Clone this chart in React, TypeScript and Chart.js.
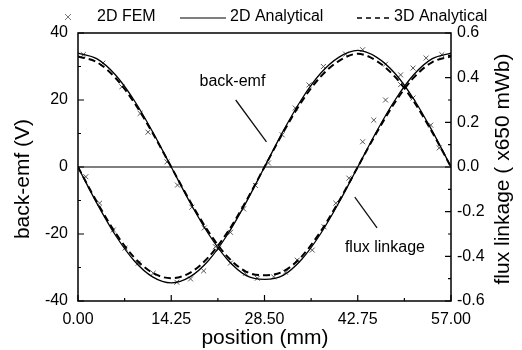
import React, { useEffect, useRef } from "react";
import { Chart, registerables } from "chart.js";
Chart.register(...registerables);

// ---- data ----
const positionMm = [0, 2.85, 5.7, 8.55, 11.4, 14.25, 17.1, 19.95, 22.8, 25.65, 28.5, 31.35, 34.2, 37.05, 39.9, 42.75, 45.6, 48.45, 51.3, 54.15, 57];
const emf2DAnalytical = [0, -10.7, -20.3, -27.9, -32.8, -34.6, -32.8, -27.9, -20.3, -10.7, 0, 10.7, 20.3, 27.9, 32.8, 34.8, 32.8, 27.9, 20.3, 10.7, 0];
const emf3DAnalytical = [0, -10.3, -19.6, -26.9, -31.6, -33.2, -31.6, -26.9, -19.6, -10.3, 0, 10.3, 19.6, 26.9, 31.7, 33.8, 31.7, 26.9, 19.6, 10.3, 0];
const flux2DAnalytical = [0.51, 0.485, 0.413, 0.3, 0.158, 0, -0.158, -0.3, -0.413, -0.485, -0.503, -0.485, -0.413, -0.3, -0.158, 0, 0.158, 0.3, 0.413, 0.485, 0.51];
const flux3DAnalytical = [0.495, 0.47, 0.4, 0.29, 0.152, 0, -0.152, -0.29, -0.4, -0.468, -0.485, -0.468, -0.4, -0.29, -0.152, 0, 0.152, 0.29, 0.4, 0.47, 0.495];

const emfFemX = [1.2, 3.3, 5.4, 7.2, 9.2, 11.5, 15.1, 17.2, 19.2, 21.5, 23.3, 25.3, 27.1, 29.1, 31.2, 33.2, 35.3, 37.5, 40.9, 43.5, 47.0, 49.3, 51.2, 53.9, 55.2];
const emfFemY = [-2.9, -10.8, -18.8, -24.2, -28.7, -31.7, -34.4, -33.4, -31.0, -24.5, -19.5, -12.5, -5.5, 1.2, 9.6, 17.6, 24.5, 30.0, 33.7, 35.0, 30.7, 27.5, 20.6, 12.5, 5.7];

const fluxFemX = [0.8, 3.8, 6.7, 9.5, 10.7, 13.6, 15.2, 17.4, 19.3, 21.0, 23.3, 25.6, 27.4, 29.9, 31.7, 33.5, 35.8, 37.6, 39.4, 41.4, 43.5, 45.2, 47.0, 49.3, 51.2, 53.2, 55.6];
const fluxFemY = [0.503, 0.465, 0.359, 0.24, 0.156, 0.023, -0.081, -0.18, -0.273, -0.357, -0.43, -0.476, -0.498, -0.492, -0.471, -0.417, -0.372, -0.268, -0.162, -0.05, 0.113, 0.21, 0.3, 0.369, 0.443, 0.488, 0.503];

const xTicks = [0, 14.25, 28.5, 42.75, 57];
const emfTicks = [-40, -20, 0, 20, 40];
const fluxTicks = [-0.6, -0.4, -0.2, 0, 0.2, 0.4, 0.6];

const FONT = '"Liberation Sans", Arial, Helvetica, sans-serif';

export default function App() {
  const ref = useRef<HTMLCanvasElement>(null);

  useEffect(() => {
    const canvas = ref.current;
    if (!canvas) return;

    const pts = (xs: number[], ys: number[]) => xs.map((x, i) => ({ x, y: ys[i] }));

    const overlay = {
      id: "overlay",
      beforeDatasetsDraw(chart: any) {
        const { ctx, chartArea } = chart;
        const y = chart.scales.y;
        ctx.save();
        ctx.strokeStyle = "#555";
        ctx.lineWidth = 1.5;
        const y0 = y.getPixelForValue(0);
        ctx.beginPath();
        ctx.moveTo(chartArea.left, y0);
        ctx.lineTo(chartArea.right, y0);
        ctx.stroke();
        ctx.restore();
      },
      afterDraw(chart: any) {
        const { ctx, chartArea } = chart;
        const xs = chart.scales.x;
        const ys = chart.scales.y;
        const y1 = chart.scales.y1;
        const { left, right, top, bottom } = chartArea;
        ctx.save();
        // frame
        ctx.strokeStyle = "#000";
        ctx.lineWidth = 1.5;
        ctx.strokeRect(left, top, right - left, bottom - top);
        // inner ticks
        ctx.lineWidth = 1.2;
        ctx.beginPath();
        for (let i = 0; i <= 8; i++) {
          const v = -40 + i * 10;
          const p = ys.getPixelForValue(v);
          const len = i % 2 === 0 ? 6 : 3;
          ctx.moveTo(left, p);
          ctx.lineTo(left + len, p);
        }
        for (let i = 0; i <= 12; i++) {
          const v = -0.6 + i * 0.1;
          const p = y1.getPixelForValue(v);
          const len = i % 2 === 0 ? 6 : 3;
          ctx.moveTo(right, p);
          ctx.lineTo(right - len, p);
        }
        for (let i = 0; i <= 8; i++) {
          const v = i * 7.125;
          const p = xs.getPixelForValue(v);
          const len = i % 2 === 0 ? 6 : 3;
          ctx.moveTo(p, bottom);
          ctx.lineTo(p, bottom - len);
        }
        ctx.stroke();

        // axis titles
        ctx.fillStyle = "#000";
        ctx.font = `21px ${FONT}`;
        ctx.textAlign = "center";
        ctx.textBaseline = "middle";
        ctx.fillText("position (mm)", 265, 338);
        ctx.save();
        ctx.translate(23, 179);
        ctx.rotate(-Math.PI / 2);
        ctx.fillText("back-emf (V)", 0, 0);
        ctx.restore();
        ctx.save();
        ctx.translate(503, 169);
        ctx.rotate(-Math.PI / 2);
        ctx.fillText("flux linkage ( x650 mWb)", 0, 0);
        ctx.restore();

        // annotations
        ctx.font = `16px ${FONT}`;
        ctx.fillText("back-emf", xs.getPixelForValue(23.6), ys.getPixelForValue(25.4));
        ctx.fillText("flux linkage", xs.getPixelForValue(46.9), ys.getPixelForValue(-24.2));
        ctx.strokeStyle = "#111";
        ctx.lineWidth = 1.3;
        ctx.beginPath();
        ctx.moveTo(xs.getPixelForValue(24.1), ys.getPixelForValue(20));
        ctx.lineTo(xs.getPixelForValue(28.8), ys.getPixelForValue(7.5));
        ctx.moveTo(xs.getPixelForValue(45.7), ys.getPixelForValue(-18.2));
        ctx.lineTo(xs.getPixelForValue(42.3), ys.getPixelForValue(-9));
        ctx.stroke();

        // legend
        const ly = 17;
        ctx.strokeStyle = "#777";
        ctx.lineWidth = 1;
        ctx.beginPath();
        ctx.moveTo(65, ly - 3);
        ctx.lineTo(71, ly + 3);
        ctx.moveTo(71, ly - 3);
        ctx.lineTo(65, ly + 3);
        ctx.stroke();
        ctx.font = `16px ${FONT}`;
        ctx.textAlign = "left";
        ctx.fillStyle = "#000";
        ctx.fillText("2D FEM", 97, ly);
        ctx.strokeStyle = "#000";
        ctx.lineWidth = 1.2;
        ctx.beginPath();
        ctx.moveTo(180, ly + 1);
        ctx.lineTo(226, ly + 1);
        ctx.stroke();
        ctx.fillText("2D Analytical", 230, ly);
        ctx.lineWidth = 1.6;
        ctx.setLineDash([5, 4]);
        ctx.beginPath();
        ctx.moveTo(357, ly + 1);
        ctx.lineTo(393, ly + 1);
        ctx.stroke();
        ctx.setLineDash([]);
        ctx.fillText("3D Analytical", 394, ly);
        ctx.restore();
      },
    };

    const setTicks = (vals: number[]) => (scale: any) => {
      scale.ticks = vals.map((v) => ({ value: v }));
    };

    const chart = new Chart(canvas, {
      type: "scatter",
      data: {
        datasets: [
          {
            label: "2D Analytical (back-emf)",
            data: pts(positionMm, emf2DAnalytical),
            showLine: true,
            borderColor: "#000",
            borderWidth: 1.3,
            pointRadius: 0,
            cubicInterpolationMode: "monotone",
            yAxisID: "y",
          },
          {
            label: "3D Analytical (back-emf)",
            data: pts(positionMm, emf3DAnalytical),
            showLine: true,
            borderColor: "#000",
            borderWidth: 2,
            borderDash: [7, 4],
            pointRadius: 0,
            cubicInterpolationMode: "monotone",
            yAxisID: "y",
          },
          {
            label: "2D Analytical (flux)",
            data: pts(positionMm, flux2DAnalytical),
            showLine: true,
            borderColor: "#000",
            borderWidth: 1.3,
            pointRadius: 0,
            cubicInterpolationMode: "monotone",
            yAxisID: "y1",
          },
          {
            label: "3D Analytical (flux)",
            data: pts(positionMm, flux3DAnalytical),
            showLine: true,
            borderColor: "#000",
            borderWidth: 2,
            borderDash: [7, 4],
            pointRadius: 0,
            cubicInterpolationMode: "monotone",
            yAxisID: "y1",
          },
          {
            label: "2D FEM (back-emf)",
            data: pts(emfFemX, emfFemY),
            showLine: false,
            pointStyle: "crossRot",
            pointRadius: 3.5,
            borderColor: "#555",
            borderWidth: 1,
            yAxisID: "y",
          },
          {
            label: "2D FEM (flux)",
            data: pts(fluxFemX, fluxFemY),
            showLine: false,
            pointStyle: "crossRot",
            pointRadius: 3.5,
            borderColor: "#555",
            borderWidth: 1,
            yAxisID: "y1",
          },
        ] as any,
      },
      options: {
        animation: false,
        responsive: false,
        devicePixelRatio: 1,
        layout: { padding: { top: 33, left: 0, right: 0, bottom: 0 } },
        plugins: { legend: { display: false }, tooltip: { enabled: false } },
        scales: {
          x: {
            type: "linear",
            min: 0,
            max: 57,
            afterBuildTicks: setTicks(xTicks),
            afterFit: (s: any) => {
              s.height = 49;
            },
            grid: { drawOnChartArea: false, drawTicks: false },
            border: { display: false },
            ticks: {
              color: "#000",
              padding: 9,
              maxRotation: 0,
              autoSkip: false,
              font: { family: FONT, size: 16 },
              callback: (v: any) => Number(v).toFixed(2),
            },
          },
          y: {
            type: "linear",
            position: "left",
            min: -40,
            max: 40,
            afterBuildTicks: setTicks(emfTicks),
            afterFit: (s: any) => {
              s.width = 78;
            },
            grid: { drawOnChartArea: false, drawTicks: false },
            border: { display: false },
            ticks: {
              color: "#000",
              padding: 10,
              autoSkip: false,
              font: { family: FONT, size: 16 },
              callback: (v: any) => String(v),
            },
          },
          y1: {
            type: "linear",
            position: "right",
            min: -0.6,
            max: 0.6,
            afterBuildTicks: setTicks(fluxTicks),
            afterFit: (s: any) => {
              s.width = 71;
            },
            grid: { drawOnChartArea: false, drawTicks: false },
            border: { display: false },
            ticks: {
              color: "#000",
              padding: 6,
              autoSkip: false,
              font: { family: FONT, size: 16 },
              callback: (v: any) => Number(v).toFixed(1),
            },
          },
        },
      } as any,
      plugins: [overlay],
    });

    return () => chart.destroy();
  }, []);

  return (
    <div style={{ position: "fixed", left: 0, top: 0, width: 522, height: 350, background: "#fff" }}>
      <canvas ref={ref} width={522} height={350} style={{ width: 522, height: 350, display: "block" }} />
    </div>
  );
}
